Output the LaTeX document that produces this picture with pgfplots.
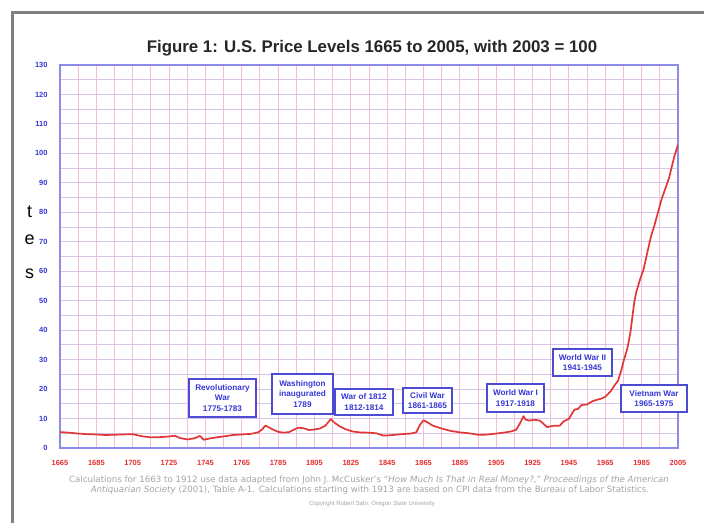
\documentclass[border=0pt]{standalone}
\usepackage{fontspec}
\setmainfont{Liberation Sans}
\newfontfamily\footfont{DejaVu Sans}
\usepackage{pgfplots}
\pgfplotsset{compat=1.18}
\definecolor{gridv}{RGB}{242,190,218}
\definecolor{gridh}{RGB}{218,195,232}
\definecolor{axblue}{RGB}{140,140,232}
\definecolor{tblue}{RGB}{55,55,215}
\definecolor{tred}{RGB}{232,45,45}
\definecolor{linered}{RGB}{226,55,55}
\definecolor{boxblue}{RGB}{75,75,212}
\definecolor{framegray}{RGB}{128,128,128}
\definecolor{foot}{RGB}{165,165,165}
\begin{document}
\begin{tikzpicture}
\useasboundingbox (0,0) rectangle (704bp,523bp);
\fill[white] (0,0) rectangle (704bp,523bp);
\begin{axis}[
  at={(60bp,75bp)}, anchor=south west,
  scale only axis, width=618bp, height=383bp,
  xmin=1665, xmax=2005, ymin=0, ymax=130,
  xtick={1665,1685,...,2005}, minor x tick num=1,
  ytick={0,10,...,130}, minor y tick num=1,
  grid=both,
  major x grid style={gridv, line width=0.9bp},
  minor x grid style={gridv, line width=0.9bp},
  major y grid style={gridh, line width=0.9bp},
  minor y grid style={gridh, line width=0.9bp},
  axis line style={axblue, line width=1.3bp},
  major tick length=0pt, minor tick length=0pt,
  tick style={draw=none},
  /pgf/number format/assume math mode=true,
  /pgf/number format/set thousands separator={},
  xticklabel style={font=\fontsize{7.5}{8}\selectfont\bfseries, text=tred, yshift=-9bp},
  yticklabel style={font=\fontsize{7.5}{8}\selectfont\bfseries, text=tblue, xshift=-9bp},
]
\addplot[linered, line width=1.7bp, line join=round] table {
x y
1665 5.4
1670 5.2
1675 4.9
1680 4.7
1685 4.6
1690 4.4
1695 4.5
1700 4.6
1705 4.7
1710 4.0
1715 3.6
1720 3.7
1725 3.9
1728 4.2
1731 3.4
1735 2.9
1739 3.3
1742 4.1
1744 2.8
1748 3.3
1752 3.7
1756 4.0
1760 4.4
1765 4.6
1770 4.8
1774 5.3
1776 6.2
1778 7.6
1780 7.0
1782 6.3
1785 5.5
1788 5.2
1791 5.4
1793 6.0
1796 6.9
1799 6.7
1802 6.1
1805 6.3
1808 6.6
1811 7.6
1814 9.8
1816 8.6
1819 7.3
1822 6.4
1826 5.6
1830 5.3
1835 5.2
1839 5.0
1843 4.2
1848 4.4
1853 4.7
1858 4.9
1861 5.3
1863 7.8
1865 9.4
1867 8.8
1870 7.6
1875 6.6
1880 5.8
1885 5.3
1890 5.0
1895 4.5
1899 4.5
1905 4.9
1910 5.3
1913 5.6
1916 6.2
1918 8.3
1920 10.8
1921 9.7
1923 9.3
1926 9.6
1929 9.3
1931 8.2
1933 7.1
1936 7.5
1940 7.6
1942 9.0
1945 9.9
1947 12.0
1948 13.0
1950 13.3
1952 14.6
1955 14.8
1958 15.9
1960 16.3
1963 16.8
1965 17.4
1968 19.3
1970 21.2
1972 22.8
1974 26.8
1975 29.4
1977 33.5
1978 36.5
1979 40.0
1980 45.0
1981 49.8
1982 52.8
1984 57.0
1986 60.5
1988 66.0
1990 71.5
1992 75.5
1994 80.0
1996 84.5
1998 88.0
2000 91.5
2002 96.5
2003 99.0
2005 103.0
};
\end{axis}
\begin{scope}[x=1bp,y=1bp]
% frame
\draw[framegray, line width=3bp] (12.5,0) -- (12.5,510.5) -- (704,510.5);
% stray letters from the page
\node[font=\fontsize{18}{20}\selectfont] at (29.5,311) {t};
\node[font=\fontsize{18}{20}\selectfont] at (29.5,283) {e};
\node[font=\fontsize{18}{20}\selectfont] at (29.5,249) {s};
% title
\node[anchor=base, font=\fontsize{16.9}{18}\selectfont\bfseries, text=black!85] at (372,470) {Figure 1: U.S. Price Levels 1665 to 2005, with 2003 = 100};
% annotation boxes
\tikzset{ann/.style={draw=boxblue, line width=1.2bp, fill=white, text=tblue, font=\fontsize{8.2}{10.8}\selectfont\bfseries, align=center, inner sep=0pt}}
\node[ann, minimum width=67bp, minimum height=38bp] at (222.5,125) {Revolutionary\\War\\1775-1783};
\node[ann, minimum width=61bp, minimum height=40bp] at (302.5,129) {Washington\\inaugurated\\1789};
\node[ann, minimum width=58bp, minimum height=26bp] at (364,121) {War of 1812\\1812-1814};
\node[ann, minimum width=49bp, minimum height=25bp] at (427.5,122.5) {Civil War\\1861-1865};
\node[ann, minimum width=57bp, minimum height=28bp] at (515.5,125) {World War I\\1917-1918};
\node[ann, minimum width=59bp, minimum height=27bp] at (582.5,160.5) {World War II\\1941-1945};
\node[ann, minimum width=66bp, minimum height=27bp] at (654,124.5) {Vietnam War\\1965-1975};
% footer
\node[text=foot, font=\footfont\fontsize{8.7}{9}\selectfont] at (369,43) {Calculations for 1663 to 1912 use data adapted from John J. McCusker’s “\textit{How Much Is That in Real Money?},” \textit{Proceedings of the American}};
\node[text=foot, font=\footfont\fontsize{8.7}{9}\selectfont] at (370,32.5) {\textit{Antiquarian Society} (2001), Table A-1. Calculations starting with 1913 are based on CPI data from the Bureau of Labor Statistics.};
\node[text=foot, font=\fontsize{6}{7}\selectfont] at (372,19) {Copyright Robert Sahr, Oregon State University};
\end{scope}
\end{tikzpicture}
\end{document}
